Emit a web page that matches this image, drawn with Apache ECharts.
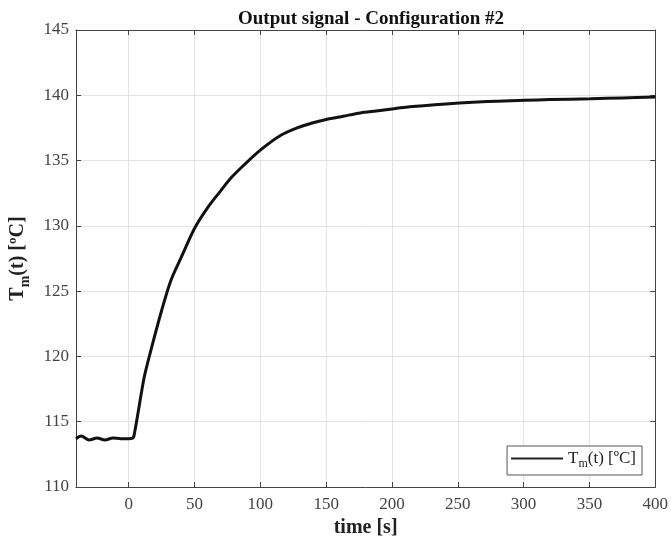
<!DOCTYPE html>
<html><head><meta charset="utf-8">
<script src="https://cdn.jsdelivr.net/npm/echarts@6/dist/echarts.min.js"></script>
<style>html,body{margin:0;padding:0;background:#fff}#c{width:671px;height:543px}</style>
</head><body><div id="c"></div>
<script>
const timeS = [-40,-36,-30,-24,-18,-12,-6,0,3,4,8,12,18,25,32,40,50,60,70,78,88,100,115,128,140,150,163,176,188,200,212,224,241,251,265,280,301,320,351,375,400];
const tempC = [113.7,113.9,113.6,113.75,113.6,113.75,113.7,113.7,113.75,113.9,116.2,118.5,120.9,123.5,125.8,127.6,129.8,131.4,132.7,133.7,134.7,135.8,136.9,137.5,137.9,138.15,138.4,138.65,138.8,138.95,139.1,139.2,139.33,139.4,139.48,139.55,139.62,139.67,139.74,139.8,139.87];
const xTicks = [0,50,100,150,200,250,300,350,400];

const chart = echarts.init(document.getElementById('c'));
const serif = '"Liberation Serif", "DejaVu Serif", serif';
const axisCol = '#444';
const gridBox = {left:75, right:14, top:30, bottom:54};
const baseX = {type:'value', min:-40, max:400,
  axisLine:{show:true, onZero:false, lineStyle:{color:axisCol, width:1}},
  axisTick:{show:true, inside:true, length:5, lineStyle:{color:axisCol}, customValues:xTicks},
  splitLine:{show:false}};
const baseY = {type:'value', min:110, max:145, interval:5,
  axisLine:{show:true, onZero:false, lineStyle:{color:axisCol, width:1}},
  axisTick:{show:true, inside:true, length:5, lineStyle:{color:axisCol}},
  splitLine:{show:false}};
chart.setOption({
  animation:false,
  title:{text:'Output signal - Configuration #2', left:366, top:5, textAlign:'center',
    textStyle:{fontFamily:serif, fontWeight:'bold', fontSize:19, color:'#111'}},
  grid:gridBox,
  legend:{right:29, bottom:68, orient:'horizontal', itemWidth:52, itemHeight:2, itemGap:4,
    padding:[4,6,5,4], borderColor:'#555', borderWidth:1, backgroundColor:'#fff',
    data:[{name:'Tm', icon:'rect', itemStyle:{color:'#222'}}],
    formatter:()=>'{a|T}{s|m}{a|(t) [ºC]}',
    textStyle:{fontFamily:serif, rich:{a:{fontFamily:serif,fontSize:17,color:'#222'}, s:{fontFamily:serif,fontSize:12,color:'#222',padding:[11,0,0,0]}}}},
  xAxis:[
    Object.assign({}, baseX, {position:'bottom',
      name:'time [s]', nameLocation:'middle', nameGap:31,
      nameTextStyle:{fontFamily:serif, fontWeight:'bold', fontSize:20, color:'#222'},
      axisLabel:{show:true, fontFamily:serif, fontSize:17, color:'#444', margin:9,
        customValues:xTicks},
      splitLine:{show:true, lineStyle:{color:'#e3e3e3', width:1}, customValues:xTicks}}),
    Object.assign({}, baseX, {position:'top', axisLabel:{show:false}})
  ],
  yAxis:[
    Object.assign({}, baseY, {position:'left',
      name:'{a|T}{s|m}{a|(t) [ºC]}', nameLocation:'middle', nameGap:44, nameRotate:90,
      nameTextStyle:{fontFamily:serif, fontWeight:'bold', fontSize:20, color:'#222',
        rich:{a:{fontFamily:serif,fontWeight:'bold',fontSize:20,color:'#222'}, s:{fontFamily:serif,fontWeight:'bold',fontSize:14,color:'#222',padding:[14,0,0,0]}}},
      axisLabel:{show:true, fontFamily:serif, fontSize:17, color:'#444', margin:7},
      splitLine:{show:true, lineStyle:{color:'#e3e3e3', width:1}}}),
    Object.assign({}, baseY, {position:'right', axisLabel:{show:false}})
  ],
  series:[{name:'Tm', type:'line', xAxisIndex:0, yAxisIndex:0, showSymbol:false, symbol:'none',
    smooth:0.3,
    data:timeS.map((t,i)=>[t,tempC[i]]),
    lineStyle:{color:'#111', width:3}, itemStyle:{color:'#111'}}]
});
</script></body></html>
